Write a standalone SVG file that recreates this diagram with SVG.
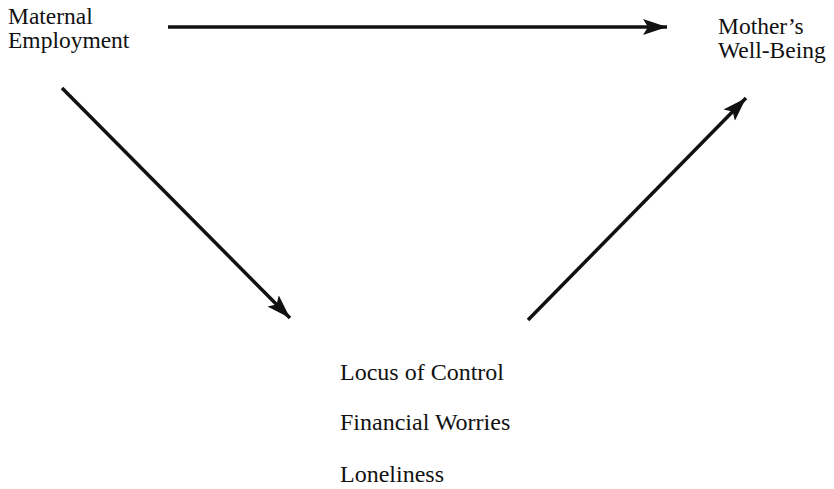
<svg xmlns="http://www.w3.org/2000/svg" width="834" height="489" viewBox="0 0 834 489">
  <style>
    .lbl { font-family: "Liberation Serif", "Times New Roman", serif; fill: #111; }
    .top { font-size: 23.5px; }
    .med { font-size: 24px; }
    .arrow { stroke: #111; stroke-width: 3.5; fill: none; marker-end: url(#head); }
  </style>
  <defs>
    <marker id="head" markerUnits="userSpaceOnUse" markerWidth="26" markerHeight="18" refX="24" refY="8" orient="auto">
      <path d="M0,0 L24,8 L0,16 L5,8 Z" fill="#111"/>
    </marker>
  </defs>
  <rect width="834" height="489" fill="#fff"/>

  <g id="maternal-employment">
    <text class="lbl top" x="8" y="24">Maternal</text>
    <text class="lbl top" x="8" y="48">Employment</text>
  </g>

  <g id="mothers-well-being">
    <text class="lbl top" x="718" y="34">Mother’s</text>
    <text class="lbl top" x="718" y="58">Well-Being</text>
  </g>

  <g id="mediators">
    <text class="lbl med" x="340" y="380">Locus of Control</text>
    <text class="lbl med" x="340" y="430">Financial Worries</text>
    <text class="lbl med" x="340" y="482">Loneliness</text>
  </g>

  <g id="connectors">
    <line class="arrow" x1="168" y1="27" x2="667" y2="27"/>
    <line class="arrow" x1="62" y1="88" x2="290" y2="318"/>
    <line class="arrow" x1="528" y1="320" x2="746" y2="98"/>
  </g>
</svg>
